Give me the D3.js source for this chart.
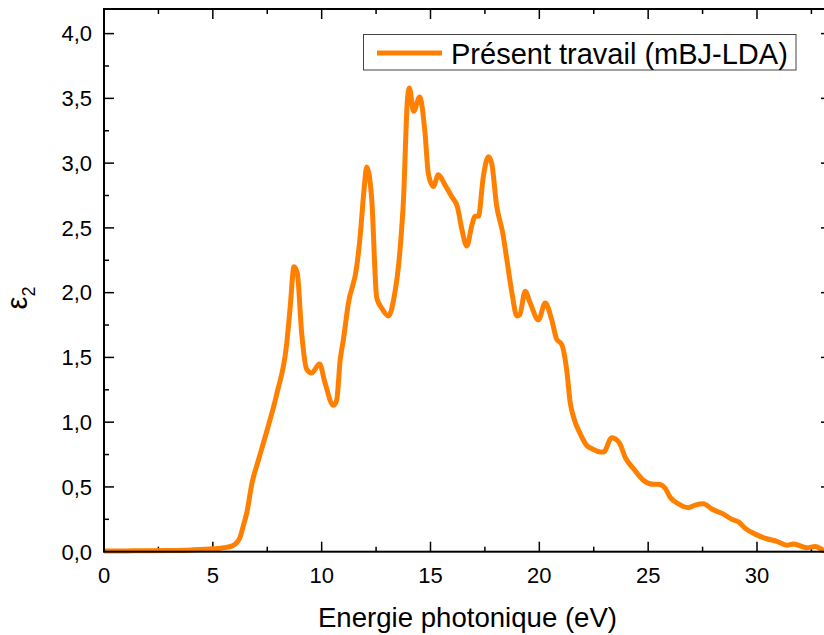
<!DOCTYPE html>
<html>
<head>
<meta charset="utf-8">
<script src="https://cdn.jsdelivr.net/npm/d3@7"></script>
<style>
  body { margin: 0; background: #fff; }
  svg { display: block; overflow: hidden; }
  text { font-family: "Liberation Sans", Arial, sans-serif; fill: #000; }
</style>
</head>
<body>
<script>
// photon energy (eV)
const energy = [
  0, 1, 2, 3, 4, 5, 5.5, 5.9, 6.1, 6.25,
  6.4, 6.56, 6.8, 7.1, 7.48, 7.94, 8.39, 8.55, 8.73, 8.88,
  9.08, 9.31, 9.54, 9.9, 10.16, 10.54, 10.69, 10.85, 11.0, 11.23,
  11.61, 11.76, 11.95, 12.07, 12.3, 12.53, 12.76, 13.07, 13.3, 13.6,
  13.76, 13.94, 14.03, 14.22, 14.5, 14.75, 14.9, 15.13, 15.36, 15.67,
  15.98, 16.24, 16.44, 16.67, 16.9, 17.05, 17.2, 17.43, 17.66, 17.81,
  18.04, 18.32, 18.53, 18.74, 18.97, 19.1, 19.35, 19.58, 19.96, 20.27,
  20.57, 20.8, 21.03, 21.26, 21.42, 21.57, 21.88, 22.18, 22.49, 22.79,
  22.95, 23.33, 23.68, 23.94, 24.33, 24.79, 25.25, 25.48, 25.78, 26.01,
  26.39, 26.85, 27.16, 27.54, 27.92, 28.46, 28.84, 29.15, 29.46, 29.99,
  30.45, 30.91, 31.37, 31.68, 32.29, 32.67, 33.09, 33.4
]
// imaginary part of the dielectric function
const eps2 = [
  0.005, 0.006, 0.008, 0.01, 0.014, 0.022, 0.03, 0.045, 0.07, 0.11,
  0.2, 0.3, 0.53, 0.71, 0.93, 1.22, 1.6, 1.88, 2.2, 2.15,
  1.69, 1.41, 1.38, 1.45, 1.3, 1.13, 1.17, 1.48, 1.64, 1.92,
  2.2, 2.42, 2.8, 2.97, 2.72, 1.96, 1.88, 1.82, 1.94, 2.33,
  2.72, 3.49, 3.58, 3.40, 3.51, 3.23, 2.92, 2.82, 2.91, 2.83,
  2.74, 2.66, 2.49, 2.36, 2.52, 2.59, 2.59, 2.90, 3.05, 3.00,
  2.67, 2.46, 2.23, 2.0, 1.82, 1.83, 2.01, 1.92, 1.79, 1.92,
  1.79, 1.64, 1.60, 1.40, 1.15, 1.04, 0.91, 0.82, 0.79, 0.77,
  0.77, 0.88, 0.84, 0.73, 0.64, 0.55, 0.52, 0.52, 0.49, 0.42,
  0.37, 0.34, 0.36, 0.37, 0.33, 0.29, 0.25, 0.23, 0.18, 0.13,
  0.10, 0.08, 0.05, 0.06, 0.03, 0.04, 0.01, 0.005
]
const xTicks = [0, 5, 10, 15, 20, 25, 30]
const yTicks = [0, 0.5, 1.0, 1.5, 2.0, 2.5, 3.0, 3.5, 4.0]
const seriesName = "Présent travail (mBJ-LDA)"

const width = 824, height = 635
const m = { left: 104, right: 831, top: 9, bottom: 551.7 }

const svg = d3.select("body").append("svg")
    .attr("width", width).attr("height", height)

const x = d3.scaleLinear().domain([0, 33.4]).range([m.left, m.right])
const y = d3.scaleLinear().domain([0, 4.19]).range([m.bottom, m.top])

const fmt = d => d3.format(".1f")(d).replace(".", ",")
const minorX = d3.range(0, 33.4, 2.5)
const minorY = d3.range(0, 4.19, 0.25)

// ticks, all pointing inward
let g = svg.append("g").attr("stroke", "#000").attr("stroke-width", 1.5)
minorX.forEach(v => {
    let len = xTicks.includes(v) ? 10 : 5
    g.append("line").attr("x1", x(v)).attr("x2", x(v)).attr("y1", m.bottom).attr("y2", m.bottom - len)
    g.append("line").attr("x1", x(v)).attr("x2", x(v)).attr("y1", m.top).attr("y2", m.top + len)
})
minorY.forEach(v => {
    let major = yTicks.some(t => Math.abs(t - v) < 1e-9)
    let len = major ? 10 : 5
    g.append("line").attr("y1", y(v)).attr("y2", y(v)).attr("x1", m.left).attr("x2", m.left + len)
    g.append("line").attr("y1", y(v)).attr("y2", y(v)).attr("x1", m.right).attr("x2", m.right - len)
})

// the curve
const line = d3.line()
    .x((d, i) => x(energy[i]))
    .y(d => y(d))
    .curve(d3.curveMonotoneX)

svg.append("path")
    .datum(eps2)
    .attr("fill", "none")
    .attr("stroke", "#ff8000")
    .attr("stroke-width", 5)
    .attr("stroke-linejoin", "round")
    .attr("d", line)

// frame
svg.append("rect")
    .attr("x", m.left).attr("y", m.top)
    .attr("width", m.right - m.left).attr("height", m.bottom - m.top)
    .attr("fill", "none").attr("stroke", "#000").attr("stroke-width", 2)

// tick labels
svg.append("g").selectAll("text").data(xTicks).enter().append("text")
    .attr("x", d => x(d)).attr("y", 582.5)
    .attr("text-anchor", "middle")
    .attr("font-size", 22)
    .text(d => d)

svg.append("g").selectAll("text").data(yTicks).enter().append("text")
    .attr("x", 92).attr("y", d => y(d) + 7.8)
    .attr("text-anchor", "end")
    .attr("font-size", 22)
    .text(fmt)

// axis titles
svg.append("text")
    .attr("x", (m.left + m.right) / 2).attr("y", 626.5)
    .attr("text-anchor", "middle")
    .attr("font-size", 27.6)
    .text("Energie photonique (eV)")

let yl = svg.append("text")
    .attr("transform", "translate(27,298) rotate(-90)")
    .attr("text-anchor", "middle")
    .attr("font-size", 29)
yl.append("tspan").text("ε")
yl.append("tspan").attr("font-size", 18).attr("dy", 8).text("2")

// legend
let lg = svg.append("g")
lg.append("rect")
    .attr("x", 363.5).attr("y", 34.5).attr("width", 432.5).attr("height", 35.5)
    .attr("fill", "#fff").attr("stroke", "#444").attr("stroke-width", 1)
lg.append("line")
    .attr("x1", 377).attr("x2", 442).attr("y1", 53).attr("y2", 53)
    .attr("stroke", "#ff8000").attr("stroke-width", 5)
lg.append("text")
    .attr("x", 451).attr("y", 63.5)
    .attr("font-size", 29)
    .text(seriesName)
</script>
</body>
</html>
